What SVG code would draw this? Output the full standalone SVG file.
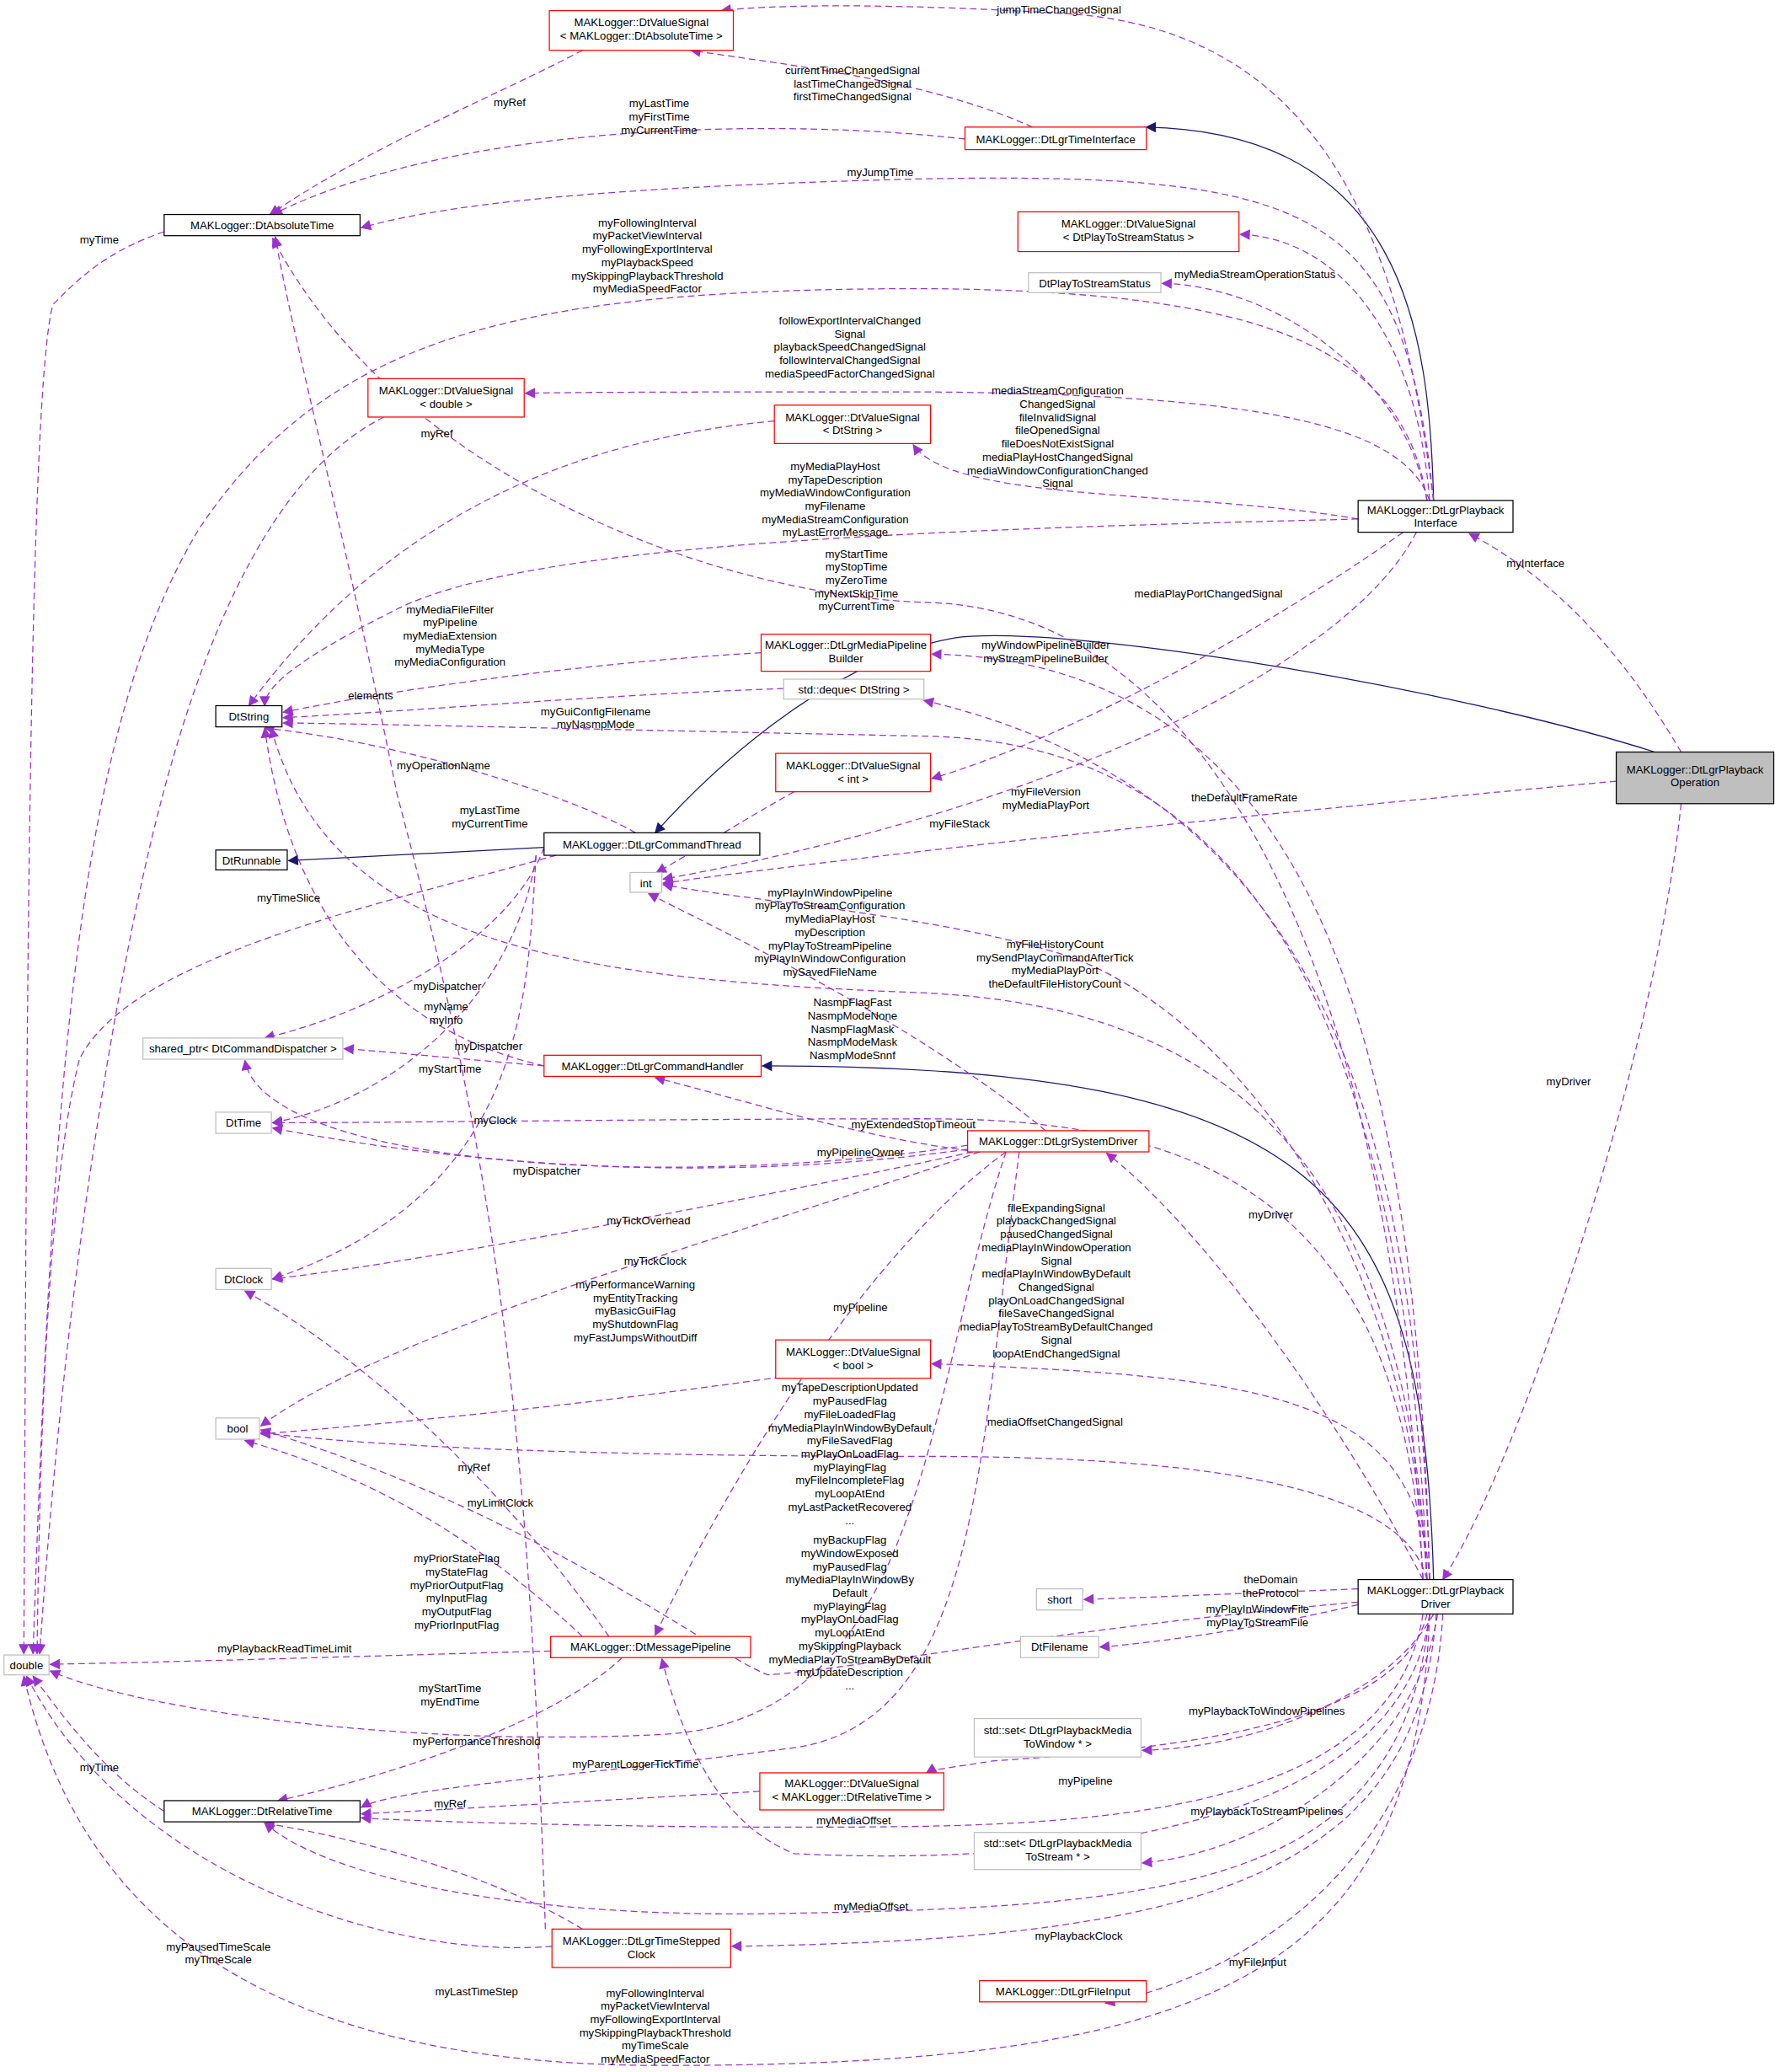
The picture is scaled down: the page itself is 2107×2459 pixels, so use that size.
<svg xmlns="http://www.w3.org/2000/svg" width="2107" height="2459" viewBox="0 0 2107 2459">
<style>
.n rect{stroke-width:0.8}
.b rect{fill:#fff;stroke:#000}
.r rect{fill:#fff;stroke:#f00}
.g rect{fill:#fff;stroke:#bfbfbf}
.s rect{fill:#bfbfbf;stroke:#000}
text{font-family:"Liberation Sans",Arial,sans-serif;font-size:8.4px;fill:#000;text-anchor:middle}
.e path{fill:none;stroke:#9a32cd;stroke-width:0.8;stroke-dasharray:5,3;marker-end:url(#pa)}
.e path.i{stroke:#191970;stroke-dasharray:none;marker-end:url(#na)}
</style>
<defs>
<marker id="pa" viewBox="0 0 10 10" refX="9" refY="5" markerWidth="10" markerHeight="8" orient="auto" markerUnits="userSpaceOnUse"><path d="M0,0L10,5L0,10z" fill="#9a32cd" stroke="none"/></marker>
<marker id="na" viewBox="0 0 10 10" refX="9" refY="5" markerWidth="10" markerHeight="8" orient="auto" markerUnits="userSpaceOnUse"><path d="M0,0L10,5L0,10z" fill="#191970" stroke="none"/></marker>
</defs>
<rect width="2107" height="2459" fill="#fff"/>
<g transform="scale(1.5713)">
<g id="edges" class="e">
<path class="i" d="M1083,378 C1080,250 1060,100 866,96"/>
<path class="i" d="M1250,568 C1100,520 800,470 720,482 C620,500 530,590 495,629"/>
<path class="i" d="M411,640 L218,650"/>
<path class="i" d="M1083,1193 C1075,900 1000,805 576,805"/>
<path d="M1083,378 C1060,200 1010,20 800,10 C700,4 600,2 545,8"/>
<path d="M780,96 C700,60 600,50 522,38"/>
<path d="M729,105 C600,90 350,90 206,162"/>
<path d="M440,38 C380,70 280,110 204,162"/>
<path d="M1083,378 C1060,160 1000,130 700,135 C500,140 350,150 273,172"/>
<path d="M1080,378 C1070,250 1010,180 937,177"/>
<path d="M1078,378 C1060,280 960,216 878,214"/>
<path d="M124,175 C80,190 60,210 40,230 C20,300 20,900 18,1249"/>
<path d="M1078,378 C1060,260 950,220 700,218 C400,218 250,250 150,400 C60,550 40,800 25,1249"/>
<path d="M1080,378 C1060,320 950,298 700,296 C550,296 450,296 397,297"/>
<path d="M290,315 C200,360 140,500 100,700 C60,900 40,1100 30,1249"/>
<path d="M1026,392 C900,370 720,380 690,336"/>
<path d="M585,318 C450,330 300,380 188,533"/>
<path d="M1026,392 C700,400 400,410 300,460 C220,500 200,520 200,533"/>
<path d="M1075,1193 C1050,700 900,460 700,455 C540,450 300,360 206,180"/>
<path d="M412,1457 C400,1100 380,900 300,600 C260,400 220,250 208,179"/>
<path d="M575,493 C450,500 300,520 214,538"/>
<path d="M592,520 C450,525 300,538 214,542"/>
<path d="M1080,1193 C1070,800 1000,500 704,494"/>
<path d="M1080,1193 C1070,850 1000,600 698,529"/>
<path d="M1078,1193 C1060,700 900,560 700,556 C500,552 300,547 214,546"/>
<path d="M600,598 C560,620 530,640 496,659"/>
<path d="M1060,402 C950,480 800,560 704,588"/>
<path d="M1221,590 C1000,610 700,640 501,667"/>
<path d="M1070,402 C1020,500 800,610 501,664"/>
<path d="M480,629 C430,600 300,560 200,550"/>
<path d="M420,646 C300,680 100,720 60,800 C35,900 30,1100 28,1249"/>
<path d="M411,640 C390,700 300,760 200,784"/>
<path d="M405,646 C390,750 300,830 206,848"/>
<path d="M405,646 C398,750 400,900 206,966"/>
<path d="M411,805 C300,780 220,700 200,550"/>
<path d="M411,805 C350,800 300,795 260,792"/>
<path d="M740,870 C650,860 560,830 495,814"/>
<path d="M790,854 C700,780 580,720 490,675"/>
<path d="M731,865 C500,900 200,880 185,801"/>
<path d="M731,868 C500,900 300,870 206,852"/>
<path d="M735,870 C500,920 300,955 206,966"/>
<path d="M740,870 C600,920 300,1000 197,1077"/>
<path d="M760,870 C650,950 550,1120 495,1235"/>
<path d="M760,870 C700,1050 700,1300 500,1310 C300,1320 100,1290 38,1262"/>
<path d="M770,870 C740,1100 740,1300 600,1320 C450,1340 300,1350 273,1365"/>
<path d="M1075,1193 C1000,1050 900,920 836,871"/>
<path d="M1270,607 C1250,800 1150,1100 1090,1193"/>
<path d="M1270,568 C1230,500 1180,440 1110,403"/>
<path d="M1075,1193 C1060,900 900,845 700,845 C500,845 300,848 206,848"/>
<path d="M1080,1193 C1070,1050 950,1040 704,1030"/>
<path d="M1078,1193 C1060,1120 900,1100 700,1100 C500,1100 300,1095 197,1082"/>
<path d="M590,1040 C450,1060 300,1075 197,1083"/>
<path d="M1026,1210 C800,1230 650,1260 580,1265 C540,1250 400,1140 197,1080"/>
<path d="M460,1236 C400,1150 300,1040 185,975"/>
<path d="M440,1236 C380,1180 300,1120 185,1088"/>
<path d="M416,1247 C300,1250 150,1255 38,1257"/>
<path d="M470,1252 C420,1300 300,1340 210,1360"/>
<path d="M1080,1219 C1060,1380 800,1410 600,1400 C550,1380 520,1330 500,1253"/>
<path d="M1078,1219 C1060,1300 900,1320 750,1330 C720,1335 705,1336 700,1339"/>
<path d="M574,1353 C450,1360 350,1366 273,1370"/>
<path d="M1080,1219 C1060,1420 900,1440 600,1445 C400,1450 250,1420 200,1377"/>
<path d="M1075,1219 C1050,1380 800,1380 600,1380 C450,1380 300,1375 273,1373"/>
<path d="M124,1368 C80,1340 50,1300 25,1266"/>
<path d="M417,1470 C300,1480 100,1420 20,1266"/>
<path d="M440,1457 C380,1420 280,1390 200,1377"/>
<path d="M1085,1219 C1070,1420 900,1465 553,1470"/>
<path d="M1090,1219 C1080,1400 950,1490 835,1513"/>
<path d="M1080,1219 C1070,1500 900,1560 500,1560 C200,1560 60,1450 18,1266"/>
<path d="M1026,1200 C950,1203 880,1206 819,1208"/>
<path d="M1026,1212 C950,1230 880,1240 831,1244"/>
<path d="M1083,1219 C1050,1280 950,1320 863,1322"/>
<path d="M1086,1219 C1070,1330 950,1400 863,1407"/>
<path d="M1078,1193 C1060,850 900,760 700,750 C450,740 250,720 205,550"/>
<path d="M1078,1193 C1060,900 900,750 800,720 C700,690 560,680 501,668"/>
</g>
<g text-anchor="middle">
<text x="800" y="10">jumpTimeChangedSignal</text>
<text x="644" y="56">currentTimeChangedSignal<tspan x="644" dy="10">lastTimeChangedSignal</tspan><tspan x="644" dy="10">firstTimeChangedSignal</tspan></text>
<text x="498" y="81">myLastTime<tspan x="498" dy="10">myFirstTime</tspan><tspan x="498" dy="10">myCurrentTime</tspan></text>
<text x="385" y="80">myRef</text>
<text x="665" y="133">myJumpTime</text>
<text x="75" y="184">myTime</text>
<text x="489" y="171">myFollowingInterval<tspan x="489" dy="10">myPacketViewInterval</tspan><tspan x="489" dy="10">myFollowingExportInterval</tspan><tspan x="489" dy="10">myPlaybackSpeed</tspan><tspan x="489" dy="10">mySkippingPlaybackThreshold</tspan><tspan x="489" dy="10">myMediaSpeedFactor</tspan></text>
<text x="642" y="245">followExportIntervalChanged<tspan x="642" dy="10">Signal</tspan><tspan x="642" dy="10">playbackSpeedChangedSignal</tspan><tspan x="642" dy="10">followIntervalChangedSignal</tspan><tspan x="642" dy="10">mediaSpeedFactorChangedSignal</tspan></text>
<text x="880" y="166">mediaPlayToStreamOperation<tspan x="880" dy="10">Signal</tspan></text>
<text x="948" y="210">myMediaStreamOperationStatus</text>
<text x="799" y="298">mediaStreamConfiguration<tspan x="799" dy="10">ChangedSignal</tspan><tspan x="799" dy="10">fileInvalidSignal</tspan><tspan x="799" dy="10">fileOpenedSignal</tspan><tspan x="799" dy="10">fileDoesNotExistSignal</tspan><tspan x="799" dy="10">mediaPlayHostChangedSignal</tspan><tspan x="799" dy="10">mediaWindowConfigurationChanged</tspan><tspan x="799" dy="10">Signal</tspan></text>
<text x="330" y="330">myRef</text>
<text x="631" y="355">myMediaPlayHost<tspan x="631" dy="10">myTapeDescription</tspan><tspan x="631" dy="10">myMediaWindowConfiguration</tspan><tspan x="631" dy="10">myFilename</tspan><tspan x="631" dy="10">myMediaStreamConfiguration</tspan><tspan x="631" dy="10">myLastErrorMessage</tspan></text>
<text x="647" y="421">myStartTime<tspan x="647" dy="10">myStopTime</tspan><tspan x="647" dy="10">myZeroTime</tspan><tspan x="647" dy="10">myNextSkipTime</tspan><tspan x="647" dy="10">myCurrentTime</tspan></text>
<text x="913" y="451">mediaPlayPortChangedSignal</text>
<text x="1160" y="428">myInterface</text>
<text x="340" y="463">myMediaFileFilter<tspan x="340" dy="10">myPipeline</tspan><tspan x="340" dy="10">myMediaExtension</tspan><tspan x="340" dy="10">myMediaType</tspan><tspan x="340" dy="10">myMediaConfiguration</tspan></text>
<text x="790" y="490">myWindowPipelineBuilder<tspan x="790" dy="10">myStreamPipelineBuilder</tspan></text>
<text x="280" y="528">elements</text>
<text x="450" y="540">myGuiConfigFilename<tspan x="450" dy="10">myNasmpMode</tspan></text>
<text x="335" y="581">myOperationName</text>
<text x="600" y="595">myRef</text>
<text x="790" y="601">myFileVersion<tspan x="790" dy="10">myMediaPlayPort</tspan></text>
<text x="940" y="605">theDefaultFrameRate</text>
<text x="370" y="615">myLastTime<tspan x="370" dy="10">myCurrentTime</tspan></text>
<text x="725" y="625">myFileStack</text>
<text x="218" y="681">myTimeSlice</text>
<text x="627" y="677">myPlayInWindowPipeline<tspan x="627" dy="10">myPlayToStreamConfiguration</tspan><tspan x="627" dy="10">myMediaPlayHost</tspan><tspan x="627" dy="10">myDescription</tspan><tspan x="627" dy="10">myPlayToStreamPipeline</tspan><tspan x="627" dy="10">myPlayInWindowConfiguration</tspan><tspan x="627" dy="10">mySavedFileName</tspan></text>
<text x="797" y="716">myFileHistoryCount<tspan x="797" dy="10">mySendPlayCommandAfterTick</tspan><tspan x="797" dy="10">myMediaPlayPort</tspan><tspan x="797" dy="10">theDefaultFileHistoryCount</tspan></text>
<text x="338" y="748">myDispatcher</text>
<text x="644" y="760">NasmpFlagFast<tspan x="644" dy="10">NasmpModeNone</tspan><tspan x="644" dy="10">NasmpFlagMask</tspan><tspan x="644" dy="10">NasmpModeMask</tspan><tspan x="644" dy="10">NasmpModeSnnf</tspan></text>
<text x="337" y="763">myName<tspan x="337" dy="10">myInfo</tspan></text>
<text x="369" y="793">myDispatcher</text>
<text x="340" y="810">myStartTime</text>
<text x="1185" y="820">myDriver</text>
<text x="374" y="849">myClock</text>
<text x="690" y="852">myExtendedStopTimeout</text>
<text x="650" y="873">myPipelineOwner</text>
<text x="413" y="887">myDispatcher</text>
<text x="798" y="915">fileExpandingSignal<tspan x="798" dy="10">playbackChangedSignal</tspan><tspan x="798" dy="10">pausedChangedSignal</tspan><tspan x="798" dy="10">mediaPlayInWindowOperation</tspan><tspan x="798" dy="10">Signal</tspan><tspan x="798" dy="10">mediaPlayInWindowByDefault</tspan><tspan x="798" dy="10">ChangedSignal</tspan><tspan x="798" dy="10">playOnLoadChangedSignal</tspan><tspan x="798" dy="10">fileSaveChangedSignal</tspan><tspan x="798" dy="10">mediaPlayToStreamByDefaultChanged</tspan><tspan x="798" dy="10">Signal</tspan><tspan x="798" dy="10">loopAtEndChangedSignal</tspan></text>
<text x="960" y="920">myDriver</text>
<text x="490" y="925">myTickOverhead</text>
<text x="495" y="955">myTickClock</text>
<text x="480" y="973">myPerformanceWarning<tspan x="480" dy="10">myEntityTracking</tspan><tspan x="480" dy="10">myBasicGuiFlag</tspan><tspan x="480" dy="10">myShutdownFlag</tspan><tspan x="480" dy="10">myFastJumpsWithoutDiff</tspan></text>
<text x="650" y="990">myPipeline</text>
<text x="642" y="1051">myTapeDescriptionUpdated<tspan x="642" dy="10">myPausedFlag</tspan><tspan x="642" dy="10">myFileLoadedFlag</tspan><tspan x="642" dy="10">myMediaPlayInWindowByDefault</tspan><tspan x="642" dy="10">myFileSavedFlag</tspan><tspan x="642" dy="10">myPlayOnLoadFlag</tspan><tspan x="642" dy="10">myPlayingFlag</tspan><tspan x="642" dy="10">myFileIncompleteFlag</tspan><tspan x="642" dy="10">myLoopAtEnd</tspan><tspan x="642" dy="10">myLastPacketRecovered</tspan><tspan x="642" dy="10">...</tspan></text>
<text x="797" y="1077">mediaOffsetChangedSignal</text>
<text x="358" y="1111">myRef</text>
<text x="378" y="1138">myLimitClock</text>
<text x="642" y="1166">myBackupFlag<tspan x="642" dy="10">myWindowExposed</tspan><tspan x="642" dy="10">myPausedFlag</tspan><tspan x="642" dy="10">myMediaPlayInWindowBy</tspan><tspan x="642" dy="10">Default</tspan><tspan x="642" dy="10">myPlayingFlag</tspan><tspan x="642" dy="10">myPlayOnLoadFlag</tspan><tspan x="642" dy="10">myLoopAtEnd</tspan><tspan x="642" dy="10">mySkippingPlayback</tspan><tspan x="642" dy="10">myMediaPlayToStreamByDefault</tspan><tspan x="642" dy="10">myUpdateDescription</tspan><tspan x="642" dy="10">...</tspan></text>
<text x="345" y="1180">myPriorStateFlag<tspan x="345" dy="10">myStateFlag</tspan><tspan x="345" dy="10">myPriorOutputFlag</tspan><tspan x="345" dy="10">myInputFlag</tspan><tspan x="345" dy="10">myOutputFlag</tspan><tspan x="345" dy="10">myPriorInputFlag</tspan></text>
<text x="960" y="1196">theDomain<tspan x="960" dy="10">theProtocol</tspan></text>
<text x="950" y="1218">myPlayInWindowFile<tspan x="950" dy="10">myPlayToStreamFile</tspan></text>
<text x="215" y="1248">myPlaybackReadTimeLimit</text>
<text x="340" y="1278">myStartTime<tspan x="340" dy="10">myEndTime</tspan></text>
<text x="957" y="1295">myPlaybackToWindowPipelines</text>
<text x="360" y="1318">myPerformanceThreshold</text>
<text x="480" y="1335">myParentLoggerTickTime</text>
<text x="75" y="1338">myTime</text>
<text x="820" y="1348">myPipeline</text>
<text x="340" y="1365">myRef</text>
<text x="957" y="1371">myPlaybackToStreamPipelines</text>
<text x="645" y="1378">myMediaOffset</text>
<text x="658" y="1443">myMediaOffset</text>
<text x="815" y="1465">myPlaybackClock</text>
<text x="165" y="1473">myPausedTimeScale<tspan x="165" dy="10">myTimeScale</tspan></text>
<text x="950" y="1485">myFileInput</text>
<text x="360" y="1507">myLastTimeStep</text>
<text x="495" y="1508">myFollowingInterval<tspan x="495" dy="10">myPacketViewInterval</tspan><tspan x="495" dy="10">myFollowingExportInterval</tspan><tspan x="495" dy="10">mySkippingPlaybackThreshold</tspan><tspan x="495" dy="10">myTimeScale</tspan><tspan x="495" dy="10">myMediaSpeedFactor</tspan></text>
</g>
<g id="n1" class="n r"><rect x="415" y="8" width="139" height="30"/><text x="484.5" y="20">MAKLogger::DtValueSignal<tspan x="484.5" dy="10">&lt; MAKLogger::DtAbsoluteTime &gt;</tspan></text></g>
<g id="n2" class="n r"><rect x="729" y="96" width="137" height="17"/><text x="797.5" y="108">MAKLogger::DtLgrTimeInterface</text></g>
<g id="n3" class="n b"><rect x="124" y="162" width="148" height="16"/><text x="198" y="173">MAKLogger::DtAbsoluteTime</text></g>
<g id="n4" class="n r"><rect x="769" y="160" width="167" height="30"/><text x="852.5" y="172">MAKLogger::DtValueSignal<tspan x="852.5" dy="10">&lt; DtPlayToStreamStatus &gt;</tspan></text></g>
<g id="n5" class="n g"><rect x="777" y="206" width="100" height="15"/><text x="827" y="217">DtPlayToStreamStatus</text></g>
<g id="n6" class="n r"><rect x="278" y="286" width="118" height="29"/><text x="337" y="298">MAKLogger::DtValueSignal<tspan x="337" dy="10">&lt; double &gt;</tspan></text></g>
<g id="n7" class="n r"><rect x="585" y="306" width="118" height="29"/><text x="644" y="318">MAKLogger::DtValueSignal<tspan x="644" dy="10">&lt; DtString &gt;</tspan></text></g>
<g id="n8" class="n b"><rect x="1026" y="378" width="117" height="24"/><text x="1084.5" y="388">MAKLogger::DtLgrPlayback<tspan x="1084.5" dy="10">Interface</tspan></text></g>
<g id="n9" class="n r"><rect x="575" y="479" width="128" height="28"/><text x="639" y="490">MAKLogger::DtLgrMediaPipeline<tspan x="639" dy="10">Builder</tspan></text></g>
<g id="n10" class="n g"><rect x="592" y="513" width="106" height="15"/><text x="645" y="524">std::deque&lt; DtString &gt;</text></g>
<g id="n11" class="n b"><rect x="163" y="533" width="50" height="16"/><text x="188" y="544">DtString</text></g>
<g id="n12" class="n r"><rect x="586" y="569" width="117" height="29"/><text x="644.5" y="581">MAKLogger::DtValueSignal<tspan x="644.5" dy="10">&lt; int &gt;</tspan></text></g>
<g id="n13" class="n s"><rect x="1221" y="568" width="119" height="39"/><text x="1280.5" y="584">MAKLogger::DtLgrPlayback<tspan x="1280.5" dy="10">Operation</tspan></text></g>
<g id="n14" class="n b"><rect x="163" y="642" width="54" height="15"/><text x="190" y="653">DtRunnable</text></g>
<g id="n15" class="n b"><rect x="411" y="629" width="163" height="17"/><text x="492.5" y="641">MAKLogger::DtLgrCommandThread</text></g>
<g id="n16" class="n g"><rect x="476" y="659" width="24" height="15"/><text x="488" y="670">int</text></g>
<g id="n17" class="n g"><rect x="108" y="784" width="151" height="16"/><text x="183.5" y="795">shared_ptr&lt; DtCommandDispatcher &gt;</text></g>
<g id="n18" class="n r"><rect x="411" y="797" width="164" height="16"/><text x="493" y="808">MAKLogger::DtLgrCommandHandler</text></g>
<g id="n19" class="n g"><rect x="163" y="840" width="42" height="16"/><text x="184" y="851">DtTime</text></g>
<g id="n20" class="n r"><rect x="731" y="854" width="137" height="16"/><text x="799.5" y="865">MAKLogger::DtLgrSystemDriver</text></g>
<g id="n21" class="n g"><rect x="163" y="958" width="42" height="16"/><text x="184" y="969">DtClock</text></g>
<g id="n22" class="n r"><rect x="586" y="1012" width="117" height="29"/><text x="644.5" y="1024">MAKLogger::DtValueSignal<tspan x="644.5" dy="10">&lt; bool &gt;</tspan></text></g>
<g id="n23" class="n g"><rect x="163" y="1071" width="33" height="16"/><text x="179.5" y="1082">bool</text></g>
<g id="n24" class="n g"><rect x="3" y="1250" width="34" height="15"/><text x="20" y="1261">double</text></g>
<g id="n25" class="n r"><rect x="416" y="1236" width="151" height="16"/><text x="491.5" y="1247">MAKLogger::DtMessagePipeline</text></g>
<g id="n26" class="n b"><rect x="1026" y="1193" width="117" height="26"/><text x="1084.5" y="1204">MAKLogger::DtLgrPlayback<tspan x="1084.5" dy="10">Driver</tspan></text></g>
<g id="n27" class="n g"><rect x="783" y="1200" width="35" height="16"/><text x="800.5" y="1211">short</text></g>
<g id="n28" class="n g"><rect x="771" y="1236" width="59" height="16"/><text x="800.5" y="1247">DtFilename</text></g>
<g id="n29" class="n g"><rect x="736" y="1298" width="126" height="29"/><text x="799" y="1310">std::set&lt; DtLgrPlaybackMedia<tspan x="799" dy="10">ToWindow * &gt;</tspan></text></g>
<g id="n30" class="n b"><rect x="124" y="1360" width="148" height="16"/><text x="198" y="1371">MAKLogger::DtRelativeTime</text></g>
<g id="n31" class="n r"><rect x="574" y="1339" width="139" height="28"/><text x="643.5" y="1350">MAKLogger::DtValueSignal<tspan x="643.5" dy="10">&lt; MAKLogger::DtRelativeTime &gt;</tspan></text></g>
<g id="n32" class="n g"><rect x="736" y="1384" width="126" height="28"/><text x="799" y="1395">std::set&lt; DtLgrPlaybackMedia<tspan x="799" dy="10">ToStream * &gt;</tspan></text></g>
<g id="n33" class="n r"><rect x="417" y="1457" width="135" height="29"/><text x="484.5" y="1469">MAKLogger::DtLgrTimeStepped<tspan x="484.5" dy="10">Clock</tspan></text></g>
<g id="n34" class="n r"><rect x="740" y="1496" width="126" height="16"/><text x="803" y="1507">MAKLogger::DtLgrFileInput</text></g>
</g>
</svg>
